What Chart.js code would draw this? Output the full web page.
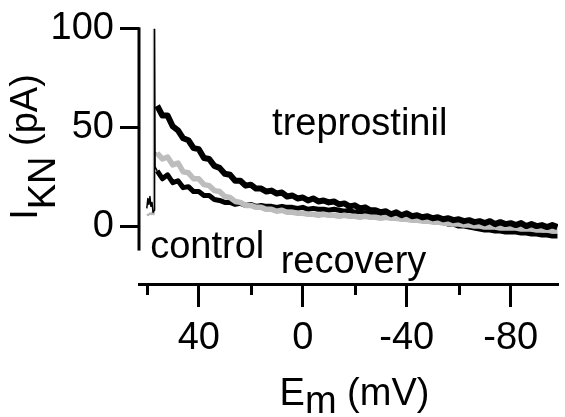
<!DOCTYPE html>
<html>
<head>
<meta charset="utf-8">
<script src="https://cdn.jsdelivr.net/npm/chart.js@4.4.0/dist/chart.umd.min.js"></script>
<style>
  html, body { margin: 0; padding: 0; background: #fff; }
  canvas { display: block; }
</style>
</head>
<body>
<canvas id="chart" width="565" height="417"></canvas>
<script>
// membrane potential of the ramp (mV), one sample every 2 mV
const voltages = [56, 54, 52, 50, 48, 46, 44, 42, 40, 38, 36, 34, 32, 30, 28, 26, 24, 22, 20, 18,
  16, 14, 12, 10, 8, 6, 4, 2, 0, -2, -4, -6, -8, -10, -12, -14, -16, -18, -20, -22,
  -24, -26, -28, -30, -32, -34, -36, -38, -40, -42, -44, -46, -48, -50, -52, -54, -56, -58, -60, -62,
  -64, -66, -68, -70, -72, -74, -76, -78, -80, -82, -84, -86, -88, -90, -92, -94, -96, -98];

// I_KN (pA)
const treprostinil = [61, 56, 56, 50.5, 48.5, 44.5, 43.5, 39.5, 39, 34.5, 34, 30.5, 29.5, 26.5, 26, 23, 23, 20.5, 21, 19,
  19, 17.5, 18, 16.5, 17, 15, 15.5, 14, 14.5, 13, 14, 12.5, 13, 12, 12.5, 11, 11.5, 10, 10.5, 9,
  9.5, 8, 8, 7, 7.5, 6, 7, 5.5, 6.5, 5, 5.5, 4.5, 5, 4, 4.5, 3.5, 4, 3, 3.5, 2.5,
  3, 2, 2.5, 1.5, 2.5, 1, 2, 1, 1.5, 0.5, 1.5, 0, 1, 0, 0.5, -0.5, 0.5, -0.5];
const recovery = [37, 34, 35, 31, 32, 27.5, 27, 24, 24, 21, 20.5, 18, 17.5, 15, 14.5, 12.5, 12, 10.5, 10.5, 9.5,
  9.5, 8.5, 8.5, 7.5, 8, 7, 7, 6.5, 6.5, 6, 6, 5.5, 6, 5.5, 5.5, 5, 5.5, 5, 5, 4.5,
  5, 4.5, 4.5, 4, 4.5, 4, 4, 3.5, 3.5, 3, 3, 2.5, 2.5, 2, 2, 1.5, 1.5, 1, 1, 0.5,
  0.5, 0, 0, -0.5, -0.5, -0.5, -1, -1, -1, -1, -1.5, -1.5, -1.5, -2, -2, -2, -2.5, -2.5];
const control = [28, 24, 26, 22, 23, 19.5, 20, 17.5, 17.5, 15.5, 15.5, 13.5, 13, 12, 12, 11, 11.5, 10.5, 11, 10,
  10.5, 10, 10, 9.5, 10, 9.5, 9.5, 9, 9.5, 8.5, 9, 8.5, 8.5, 8, 8.5, 8, 7.5, 8, 7, 7.5,
  6.5, 7, 6, 6.5, 6, 6, 5, 5.5, 4.5, 4.5, 4, 3.5, 3, 2.5, 2, 2, 1, 1, 0, 0,
  -0.5, -1, -1.5, -2, -2, -2.5, -2.5, -3, -3, -3, -3.5, -3.5, -4, -4, -4.5, -4.5, -5, -5];

// capacitive transient at the start of the ramp
const spikeBlackV = [60, 59.6, 59.2, 58.8, 58.4, 58, 57.6, 57.2, 57, 56.8, 56];
const spikeBlackI = [9, 14, 11, 15, 10, 12, 7, 8, 100, 30, 28];
const spikeGreyV = [60, 59.4, 58.8, 58.2, 57.8, 57.5, 57.3, 57.2, 56];
const spikeGreyI = [6, 5.5, 6.5, 6, 7, 6, 100, 37, 37];

const xMajorTicks = [40, 0, -40, -80];
const xMinorTicks = [60, 20, -20, -60];
const yTicks = [0, 50, 100];

const traceLabels = ['treprostinil', 'control', 'recovery'];

const FAMILY = "'Liberation Sans', Arial, Helvetica, sans-serif";
const FONT_SIZE = 38;
const labelPos = [[11.8, 46.3], [58.7, -16.4], [8.5, -23.9]];
const yAxisExtent = [-12.4, 100];

const toPoints = (xs, ys) => xs.map((v, i) => ({ x: v, y: ys[i] }));

const decorations = {
  id: 'decorations',
  afterDraw(chart) {
    const { ctx, chartArea, scales: { x, y } } = chart;
    ctx.save();
    ctx.strokeStyle = '#000';
    ctx.fillStyle = '#000';
    ctx.lineWidth = 3;

    // y axis line, it stops short of the x axis
    ctx.beginPath();
    ctx.moveTo(chartArea.left, y.getPixelForValue(yAxisExtent[1]) - 1.5);
    ctx.lineTo(chartArea.left, y.getPixelForValue(yAxisExtent[0]));
    ctx.stroke();

    // minor ticks on the x axis
    xMinorTicks.forEach(v => {
      const px = Math.round(x.getPixelForValue(v)) + 0.5;
      ctx.beginPath();
      ctx.moveTo(px, chartArea.bottom);
      ctx.lineTo(px, chartArea.bottom + 11);
      ctx.stroke();
    });

    ctx.font = `${FONT_SIZE}px ${FAMILY}`;
    ctx.textBaseline = 'alphabetic';
    ctx.textAlign = 'left';
    traceLabels.forEach((t, i) => {
      ctx.fillText(t, x.getPixelForValue(labelPos[i][0]), y.getPixelForValue(labelPos[i][1]));
    });

    // x title: E_m (mV)
    const wE = ctx.measureText('E').width;
    const wm = ctx.measureText('m').width;
    const wRest = ctx.measureText(' (mV)').width;
    let sx = (chartArea.left + chartArea.right) / 2 + 6 - (wE + wm + wRest) / 2;
    ctx.fillText('E', sx, 405);
    ctx.fillText('m', sx + wE, 413);
    ctx.fillText(' (mV)', sx + wE + wm, 405);

    // y title: I_KN (pA), rotated
    const wI = ctx.measureText('I').width;
    const wKN = ctx.measureText('KN').width;
    const wP = ctx.measureText(' (pA)').width;
    ctx.translate(37, 147 + (wI + wKN + wP) / 2);
    ctx.rotate(-Math.PI / 2);
    ctx.fillText('I', 0, 0);
    ctx.fillText('KN', wI, 18);
    ctx.fillText(' (pA)', wI + wKN, 0);
    ctx.restore();
  }
};

new Chart(document.getElementById('chart'), {
  type: 'line',
  data: {
    datasets: [
      { label: 'transient', data: toPoints(spikeBlackV, spikeBlackI), borderColor: '#000', borderWidth: 1.5, order: 0 },
      { label: 'transient grey', data: toPoints(spikeGreyV, spikeGreyI), borderColor: '#b4b4b4', borderWidth: 2, order: 0 },
      { label: traceLabels[0], data: toPoints(voltages, treprostinil), borderColor: '#000', borderWidth: 6, order: 1 },
      { label: traceLabels[2], data: toPoints(voltages, recovery), borderColor: '#bdbdbd', borderWidth: 5.5, order: 2 },
      { label: traceLabels[1], data: toPoints(voltages, control), borderColor: '#000', borderWidth: 5, order: 3 }
    ]
  },
  options: {
    responsive: false,
    animation: false,
    devicePixelRatio: 1,
    elements: { point: { radius: 0 }, line: { tension: 0, borderJoinStyle: 'round' } },
    layout: { padding: { top: 24, right: 7, bottom: 0, left: 0 } },
    plugins: { legend: { display: false }, tooltip: { enabled: false } },
    scales: {
      x: {
        type: 'linear',
        reverse: true,
        min: -98.2,
        max: 63,
        afterFit: s => { s.height = 133; },
        afterBuildTicks: s => { s.ticks = xMajorTicks.map(v => ({ value: v })); },
        border: { display: true, color: '#000', width: 3 },
        grid: { drawOnChartArea: false, tickLength: 23, tickWidth: 3, tickColor: '#000' },
        ticks: { color: '#000', font: { family: FAMILY, size: FONT_SIZE }, padding: 9, maxRotation: 0, autoSkip: false }
      },
      y: {
        min: -29.35,
        max: 100,
        afterFit: s => { s.width = 139; },
        afterBuildTicks: s => { s.ticks = yTicks.map(v => ({ value: v })); },
        border: { display: false },
        grid: { drawOnChartArea: false, tickLength: 19, tickWidth: 3, tickColor: '#000' },
        ticks: { color: '#000', font: { family: FAMILY, size: FONT_SIZE }, padding: 6 }
      }
    }
  },
  plugins: [decorations]
});
</script>
</body>
</html>
